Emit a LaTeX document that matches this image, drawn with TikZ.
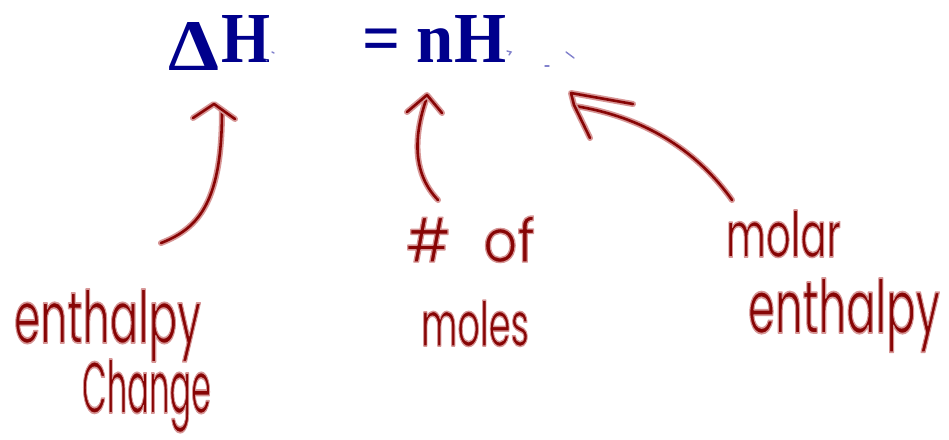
\documentclass[tikz,border=0pt]{standalone}
\usepackage{graphicx}
\usepackage{fontspec}
\setmainfont{Liberation Serif}
\newfontfamily\hwfont{Poppins}
\definecolor{formula}{RGB}{0,0,140}
\definecolor{hwred}{RGB}{135,5,5}
\definecolor{hwhalo}{RGB}{215,150,150}
\definecolor{faint}{RGB}{130,130,205}
\newcommand{\halotext}[1]{\special{pdf:code q 2 Tr 0.84 0.59 0.59 RG 0.24 w 1 j}#1\special{pdf:code Q}}
\newcommand{\hwtext}[3]{\resizebox{#1}{#2}{\hwfont\halotext{#3}}}
\newcommand{\fmtext}[3]{\resizebox{#1}{#2}{\bfseries #3}}
\begin{document}
\begin{tikzpicture}[x=1pt,y=-1pt,
  hwline/.style={draw=hwred, line width=2.6pt, line cap=round, line join=round,
    preaction={draw=hwhalo, line width=6pt, line cap=round, line join=round}},
  hwlabel/.style={inner sep=0pt, outer sep=0pt, anchor=base west, text=hwred},
  fmlabel/.style={inner sep=0pt, outer sep=0pt, anchor=base west, text=formula},
  faintmark/.style={draw=faint, line width=1.4pt, line cap=round}]
\fill[white] (0,0) rectangle (949,439);
\useasboundingbox (0,0) rectangle (949,439);

% formula
\node[fmlabel] (delta) at (168,70) {\fmtext{51pt}{48pt}{Δ}};
\node[fmlabel] (H1) at (221,62) {\fmtext{49pt}{47pt}{H}};
\node[fmlabel] (eqnH) at (362,62) {\fmtext{144pt}{47pt}{= nH}};

% faint remnants
\draw[faintmark] (272,52) -- (274,53);
\draw[faintmark] (266,60) -- (267,61);
\draw[faintmark] (507,51) -- (511,52) -- (509,55);
\draw[faintmark] (545,66) -- (549,66);
\draw[faintmark] (566,52) -- (574,58);

% handwritten labels
\node[hwlabel] (enth1) at (14,343) {\hwtext{187pt}{54pt}{enthalpy}};
\node[hwlabel] (change) at (82,413) {\hwtext{129pt}{54pt}{Change}};
\node[hwlabel] (numof) at (406,262) {\hwtext{129pt}{46pt}{\#\hspace{0.6em}of}};
\node[hwlabel] (moles) at (421,346) {\hwtext{108pt}{46pt}{moles}};
\node[hwlabel] (molar) at (726,257) {\hwtext{115pt}{47pt}{molar}};
\node[hwlabel] (enth2) at (748,333) {\hwtext{192pt}{55pt}{enthalpy}};

% arrow anchor points
\coordinate (a1tail) at (161,243);
\coordinate (a1tip) at (222,110);
\coordinate (a2tail) at (438,200);
\coordinate (a2tip) at (427,97);
\coordinate (a3tail) at (732,200);
\coordinate (a3tip) at (575,106);

% arrows
\draw[hwline] (a1tail) .. controls (200,228) and (222,200) .. (a1tip);
\draw[hwline] (193,118) -- (214,104) -- (235,119);
\draw[hwline] (a2tail) .. controls (414,175) and (412,140) .. (a2tip);
\draw[hwline] (407,112) -- (427,95) -- (442,113);
\draw[hwline] (a3tail) .. controls (700,155) and (650,118) .. (a3tip);
\draw[hwline] (633,104) -- (571,93) -- (574,105) -- (590,138);
\end{tikzpicture}
\end{document}
